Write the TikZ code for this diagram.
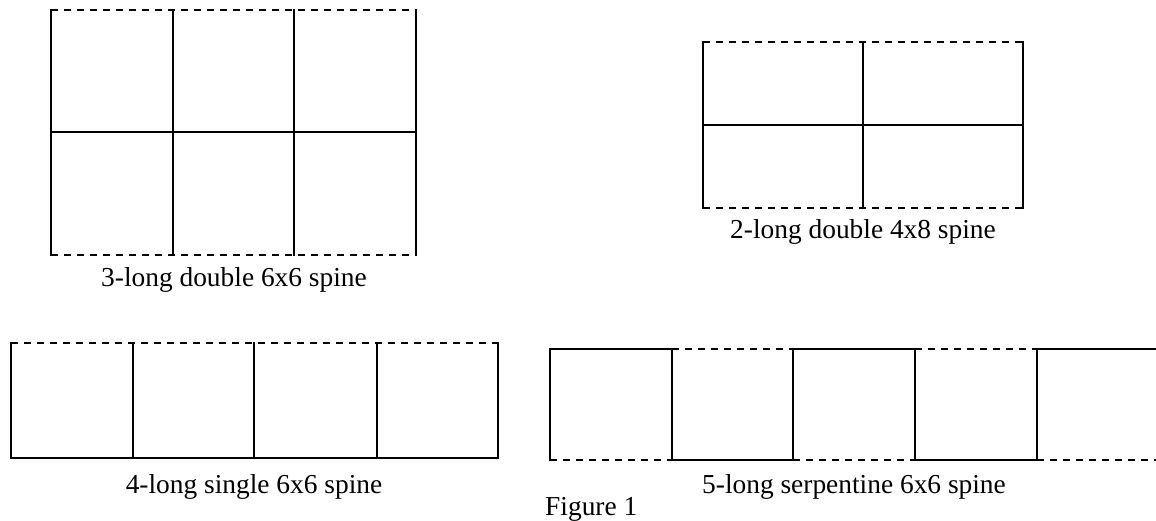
\documentclass[tikz,border=0pt]{standalone}
\usepackage{fontspec}
\setmainfont{Liberation Serif}
\begin{document}
\begin{tikzpicture}[x=1pt,y=-1pt,
  solidline/.style={line width=2.7pt},
  dashline/.style={line width=2.7pt,dash pattern=on 7pt off 6pt},
  lbl/.style={anchor=base,inner sep=0pt,font=\fontsize{27.4}{32}\selectfont}]
\useasboundingbox[fill=white] (0,0) rectangle (1156,520);
% --- 3-long double 6x6 spine
\foreach \x in {51,173,294,416} \draw[solidline] (\x,9) -- (\x,256);
\draw[solidline] (51,132) -- (416,132);
\draw[dashline] (51,10) -- (416,10);
\draw[dashline] (51,255) -- (416,255);
\node[lbl] (l1) at (234,286) {3-long double 6x6 spine};
% --- 2-long double 4x8 spine
\foreach \x in {703,863,1023} \draw[solidline] (\x,41) -- (\x,209);
\draw[solidline] (703,125) -- (1023,125);
\draw[dashline] (703,42) -- (1023,42);
\draw[dashline] (703,208) -- (1023,208);
\node[lbl] (l2) at (863,238) {2-long double 4x8 spine};
% --- 4-long single 6x6 spine
\foreach \x in {11,133,254,377,498} \draw[solidline] (\x,342) -- (\x,459);
\draw[solidline] (11,458) -- (498,458);
\draw[dashline] (11,343) -- (498,343);
\node[lbl] (l3) at (254,493) {4-long single 6x6 spine};
% --- 5-long serpentine 6x6 spine
\foreach \x in {550,672,793,915,1037} \draw[solidline] (\x,348) -- (\x,461);
\draw[solidline] (550,349) -- (672,349);
\draw[solidline] (793,349) -- (915,349);
\draw[solidline] (1037,349) -- (1160,349);
\draw[solidline] (672,460) -- (793,460);
\draw[solidline] (915,460) -- (1037,460);
\draw[dashline] (672,349) -- (793,349);
\draw[dashline] (915,349) -- (1037,349);
\draw[dashline] (550,460) -- (672,460);
\draw[dashline] (793,460) -- (915,460);
\draw[dashline] (1037,460) -- (1160,460);
\node[lbl] (l4) at (854,493) {5-long serpentine 6x6 spine};
\node[lbl,anchor=base west] (fig) at (545,515) {Figure 1};
\end{tikzpicture}
\end{document}
